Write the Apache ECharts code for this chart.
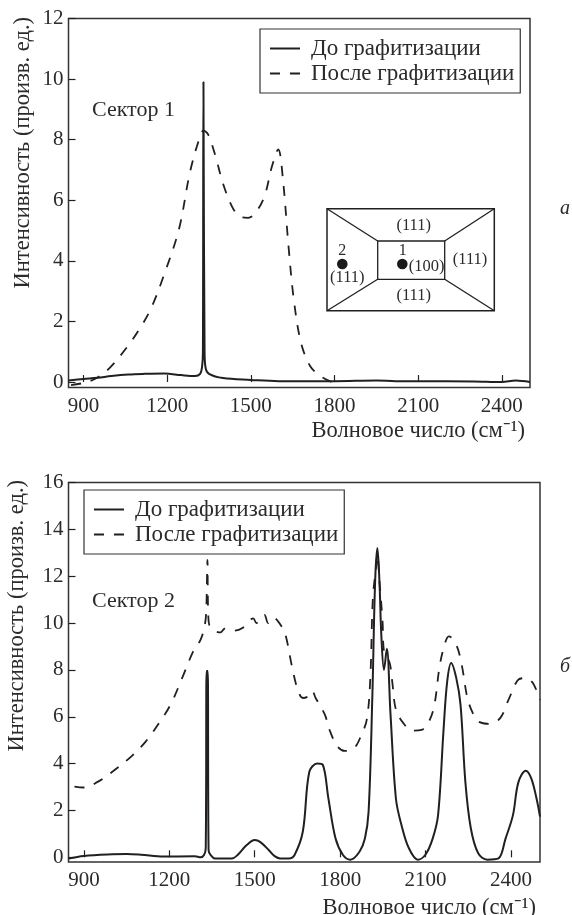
<!DOCTYPE html>
<html><head><meta charset="utf-8">
<style>html,body{margin:0;padding:0;background:#fff}#c{width:572px;height:915px}</style>
<script src="https://cdn.jsdelivr.net/npm/echarts@6/dist/echarts.min.js"></script>
</head><body><div id="c"></div>
<script>
const legendNames=['До графитизации','После графитизации'];
const xTicks=[900,1200,1500,1800,2100,2400];
const yTicksA=[0,2,4,6,8,10,12];
const yTicksB=[0,2,4,6,8,10,12,14,16];
const beforeA=[[846,0.05],[900,0.1],[950,0.14],[1000,0.2],[1060,0.25],[1120,0.27],[1190,0.28],[1250,0.23],[1300,0.2],[1318,0.27],[1325,0.5],[1328,1.0],[1330,9.9],[1332,9.9],[1334,1.0],[1338,0.45],[1350,0.27],[1400,0.13],[1500,0.07],[1600,0.03],[1800,0.03],[1950,0.05],[2020,0.03],[2100,0.03],[2300,0.02],[2400,0],[2450,0.05],[2501,0]];
const afterA=[[855,-0.1],[900,-0.03],[940,0.1],[993,0.46],[1058,1.18],[1104,1.8],[1143,2.45],[1189,3.55],[1242,5.04],[1281,6.9],[1314,8.0],[1330,8.3],[1346,8.18],[1373,7.46],[1399,6.58],[1432,5.8],[1458,5.48],[1490,5.42],[1517,5.59],[1549,6.14],[1576,7.13],[1598,7.68],[1615,6.69],[1635,4.48],[1654,2.72],[1680,1.29],[1713,0.52],[1746,0.22],[1785,0.02],[1810,-0.05]];
const beforeB=[[846,-0.05],[900,0.06],[1000,0.13],[1050,0.14],[1100,0.11],[1180,0.03],[1200,0.04],[1290,0.05],[1310,0],[1322,0.1],[1328,0.4],[1331,7.95],[1335,7.95],[1338,0.3],[1345,0.1],[1360,-0.05],[1420,-0.05],[1440,0.1],[1470,0.5],[1500,0.74],[1520,0.65],[1550,0.3],[1570,0.05],[1590,-0.05],[1620,-0.05],[1640,0.1],[1669,1.1],[1692,3.66],[1720,4.0],[1739,3.95],[1759,2.5],[1784,0.8],[1810,0.1],[1836,-0.1],[1868,0.24],[1887,0.8],[1900,1.95],[1913,6.8],[1923,11.8],[1931,13.2],[1938,11.8],[1945,9.4],[1954,8.0],[1964,8.9],[1977,6.1],[1996,2.5],[2015,1.4],[2041,0.4],[2073,-0.1],[2099,0.1],[2125,0.8],[2144,1.8],[2163,5.4],[2176,7.5],[2190,8.3],[2208,7.65],[2223,6.5],[2240,3.2],[2259,1.24],[2285,0.17],[2317,-0.1],[2356,-0.05],[2381,0.8],[2407,1.8],[2426,3.2],[2452,3.7],[2471,3.38],[2490,2.5],[2502,1.74]];
const afterB=[[867,3.02],[899,2.98],[950,3.23],[1001,3.66],[1066,4.3],[1117,4.94],[1168,5.8],[1207,6.58],[1245,7.65],[1284,8.79],[1310,9.29],[1325,9.93],[1330,10.6],[1334,12.7],[1337,10.3],[1345,9.8],[1380,9.6],[1395,9.76],[1425,9.67],[1457,9.79],[1495,10.2],[1506,10],[1534,10.35],[1547,10],[1564,10.24],[1598,9.79],[1611,9.36],[1630,8.2],[1650,7.2],[1669,6.8],[1688,6.87],[1702,7.1],[1714,6.8],[1746,6.1],[1765,5.37],[1791,4.73],[1816,4.54],[1849,4.66],[1874,5.2],[1894,5.9],[1906,7.65],[1915,11.07],[1926,12.35],[1931,12.9],[1938,11.8],[1949,10.07],[1954,8.8],[1974,8.3],[1983,7.5],[1996,6.3],[2022,5.73],[2054,5.41],[2086,5.44],[2112,5.8],[2131,6.5],[2150,8.2],[2170,9.2],[2182,9.43],[2208,9.07],[2227,8.22],[2247,6.8],[2266,6.15],[2285,5.8],[2324,5.7],[2362,5.94],[2394,6.8],[2426,7.58],[2452,7.65],[2477,7.44],[2502,6.72]];

const F='"Liberation Serif"',INK='#231f20',TXT='#2b2b2b';
const xAxis=(g,mx,pad)=>({type:'value',gridIndex:g,min:846,max:mx,splitLine:{show:false},
  axisLine:{show:false},
  axisTick:{show:true,inside:true,length:7,customValues:xTicks,lineStyle:{color:INK,width:1.2}},
  axisLabel:{customValues:xTicks,formatter:v=>String(v),color:TXT,fontFamily:F,fontSize:21,margin:8,hideOverlap:false,showMinLabel:true,showMaxLabel:true},
  name:'Волновое число (см⁻¹)',nameLocation:'end',nameGap:0,nameMoveOverlap:false,
  nameTextStyle:{color:TXT,fontFamily:F,fontSize:22.5,align:'right',verticalAlign:'top',padding:pad}});
const yAxis=(g,mn,mx,ticks)=>({type:'value',gridIndex:g,min:mn,max:mx,splitLine:{show:false},
  axisLine:{show:false},axisTick:{show:true,inside:true,length:7,customValues:ticks,lineStyle:{color:INK,width:1.2}},
  axisLabel:{customValues:ticks,formatter:v=>String(v),color:TXT,fontFamily:F,fontSize:21,margin:5,hideOverlap:false,showMinLabel:true,showMaxLabel:true}});
const line=(name,data,g,dash)=>({name,type:'line',xAxisIndex:g,yAxisIndex:g,data,showSymbol:false,symbol:'circle',symbolSize:0,
  smooth:0.35,lineStyle:{color:INK,width:dash?1.8:2,type:dash?[10,10]:'solid'},itemStyle:{color:INK},z:dash?3:2});
const legend=(left,top)=>({left,top,orient:'vertical',data:legendNames,selectedMode:false,itemWidth:30,itemHeight:14,itemGap:2,
  padding:[8,6,8,9],borderColor:'#333',borderWidth:1.2,backgroundColor:'#fff',itemStyle:{opacity:0},
  textStyle:{color:TXT,fontFamily:F,fontSize:23,padding:[0,0,0,6]}});
const txt=(x,y,text,o={})=>({type:'text',x,y,z:20,style:Object.assign({text,fill:TXT,fontFamily:F,fontSize:16.5,align:'center',verticalAlign:'middle'},o)});
const seg=(x1,y1,x2,y2)=>({type:'line',z:20,shape:{x1,y1,x2,y2},style:{stroke:INK,lineWidth:1.3}});
const rotY=(x,y,text)=>({type:'text',x,y,rotation:Math.PI/2,z:20,style:{text,fill:TXT,fontFamily:F,fontSize:22.5,align:'right',verticalAlign:'middle'}});

const chart=echarts.init(document.getElementById('c'),null,{renderer:'canvas'});
chart.setOption({animation:false,backgroundColor:'#fff',
  grid:[{left:68.5,top:18.5,width:461.5,height:369,show:true,outerBoundsMode:'none',borderColor:'#333',borderWidth:1.5,backgroundColor:'transparent'},
        {left:68.5,top:482.5,width:471.5,height:379.5,show:true,outerBoundsMode:'none',borderColor:'#333',borderWidth:1.5,backgroundColor:'transparent'}],
  xAxis:[xAxis(0,2501,[38,5,0,0]),xAxis(1,2502,[39,4,0,0])],
  yAxis:[yAxis(0,-0.18,12,yTicksA),yAxis(1,-0.2,16,yTicksB)],
  legend:[legend(260,29),legend(84,490)],
  series:[line(legendNames[0],beforeA,0,false),line(legendNames[1],afterA,0,true),
          line(legendNames[0],beforeB,1,false),line(legendNames[1],afterB,1,true)],
  graphic:[
    rotY(23,17,'Интенсивность (произв. ед.)'),rotY(17,480,'Интенсивность (произв. ед.)'),
    txt(92,110,'Сектор 1',{align:'left',fontSize:22}),txt(92,601,'Сектор 2',{align:'left',fontSize:22}),
    txt(565,209,'а',{fontStyle:'italic',fontSize:20}),txt(565,667,'б',{fontStyle:'italic',fontSize:20}),
    {type:'rect',z:20,shape:{x:327,y:208.7,width:167.3,height:102},style:{fill:'#fff',stroke:INK,lineWidth:1.5}},
    {type:'rect',z:21,shape:{x:377.7,y:241,width:67,height:38.3},style:{fill:'none',stroke:INK,lineWidth:1.3}},
    seg(327,208.7,377.7,241),seg(494.3,208.7,444.7,241),seg(327,310.7,377.7,279.3),seg(494.3,310.7,444.7,279.3),
    {type:'circle',z:22,shape:{cx:342.3,cy:264,r:5.3},style:{fill:'#1a1a1a'}},
    {type:'circle',z:22,shape:{cx:402.3,cy:264,r:5.3},style:{fill:'#1a1a1a'}},
    txt(413.7,225.7,'(111)'),txt(413.7,296,'(111)'),txt(470,260,'(111)'),txt(347.3,278,'(111)'),
    txt(426.7,267,'(100)'),txt(342.3,251,'2',{fontSize:16}),txt(402.7,251,'1',{fontSize:16})
  ]
});
</script></body></html>
